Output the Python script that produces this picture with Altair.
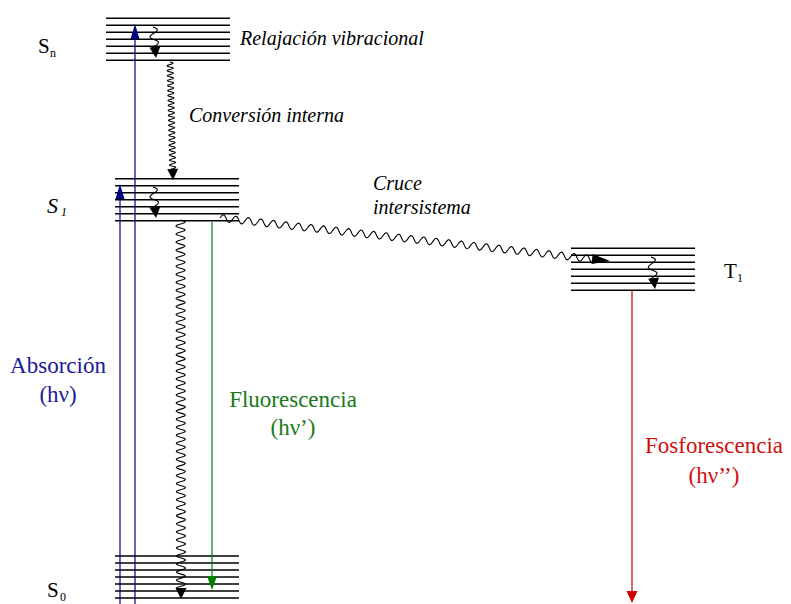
import math
import altair as alt
import numpy as np
import pandas as pd

# ---------------- data (x across, e = energy upward) ----------------
level_names = ["Sn", "S1", "T1", "S0"]
level_top = [585.7, 425.3, 355.7, 48.0]
level_left = [106, 115, 571, 115]
level_right = [230, 239, 695, 239]
n_sublevels = 7
sublevel_gap = 7.0

rad_names = ["Absorción 1", "Absorción 2", "Fluorescencia", "Fosforescencia"]
rad_x = [120, 135, 212, 632]
rad_start = [0, 0, 382, 313]
rad_tip = [420, 580, 14, 1]

nr_names = ["Relajación Sn", "Conversión interna", "Relajación S1",
            "S1 a S0", "Cruce intersistema", "Relajación T1"]
nr_x_start = [153, 170, 153, 180.5, 220, 651]
nr_e_start = [577, 542, 417, 384, 386, 347]
nr_x_tip = [156, 173, 156, 181, 610, 655]
nr_e_tip = [546, 424, 386, 5, 343, 315]
nr_waves = [1.75, 22, 1.75, 46, 30, 1.75]

label_text = ["S", "n", "S", "0", "T", "1",
              "Absorción", "(hν)", "Fluorescencia", "(hν’)", "Fosforescencia", "(hν’’)",
              "S", "1", "Relajación vibracional", "Conversión interna", "Cruce", "intersistema"]
label_x = [38, 50, 47, 60, 724, 737,
           58, 58, 293, 293, 714, 714,
           47, 61, 240, 189, 373, 373]
label_e = [551, 547, 7, 3, 326, 322,
           231, 202, 197, 169, 151, 121,
           391, 388, 559, 482, 414, 390]

# ---------------- styles ----------------
RAD_COLORS = ["#000080", "#000080", "#008000", "#cc0000"]
RAD_HEAD = [(15, 9), (15, 9), (14, 10), (12, 11)]  # length, width
NR_AMP = [4, 3, 4, 4.5, 3.5, 4]
NR_HEAD = [(11, 11), (11, 11), (11, 11), (11, 11), (18, 10), (11, 11)]
LABEL_SIZE = [21, 12, 21, 12, 21, 12,
              23, 23, 23, 23, 23, 23,
              22, 12, 20, 20, 20, 20]
LABEL_COLOR = ["black"] * 6 + ["#1a1a99"] * 2 + ["#1a7a1a"] * 2 + ["#d01010"] * 2 + ["black"] * 6
LABEL_KIND = ["left"] * 6 + ["center"] * 6 + ["italic"] * 6
FONT = "Liberation Serif, Times New Roman, Times, serif"

# ---------------- tables ----------------
lev_rows = []
for name, top, x0, x1 in zip(level_names, level_top, level_left, level_right):
    for k in range(n_sublevels):
        lev_rows.append({"name": name, "x": x0, "x2": x1, "e": top - k * sublevel_gap})
levels = pd.DataFrame(lev_rows)


def head_row(x0, e0, xt, et, length, width, color):
    dx, de = xt - x0, et - e0
    d = math.hypot(dx, de)
    ux, ue = dx / d, de / d
    cx, ce = xt - ux * length / 2, et - ue * length / 2
    w = (width / 2) / (length / 2)
    sx, sy = ux, -ue
    ang = math.degrees(math.atan2(-sx, sy)) % 360
    return {"x": cx, "e": ce, "shape": f"M0,1L{-w:.3f},-1L{w:.3f},-1Z",
            "size": length ** 2, "angle": ang, "color": color}


rad_rows, head_rows = [], []
for name, x, e0, et, col, (L, W) in zip(rad_names, rad_x, rad_start, rad_tip, RAD_COLORS, RAD_HEAD):
    h = head_row(x, e0, x, et, L, W, col)
    rad_rows.append({"name": name, "x": x, "e": e0, "e2": h["e"], "color": col})
    head_rows.append(h)
rad = pd.DataFrame(rad_rows)

wave_rows = []
for name, x0, e0, xt, et, nw, amp, (L, W) in zip(nr_names, nr_x_start, nr_e_start, nr_x_tip,
                                                  nr_e_tip, nr_waves, NR_AMP, NR_HEAD):
    dx, de = xt - x0, et - e0
    d = math.hypot(dx, de)
    ux, ue = dx / d, de / d
    nx, ne = -ue, ux
    xe, ee = xt - ux * L * 0.8, et - ue * L * 0.8
    n_pts = int(nw * 16) + 2
    for i, t in enumerate(np.linspace(0, 1, n_pts)):
        off = amp * math.sin(2 * math.pi * nw * t)
        wave_rows.append({"id": name, "i": i,
                          "x": x0 + t * (xe - x0) + nx * off,
                          "e": e0 + t * (ee - e0) + ne * off})
    head_rows.append(head_row(x0, e0, xt, et, L, W, "black"))
waves = pd.DataFrame(wave_rows)
heads = pd.DataFrame(head_rows)

labels = pd.DataFrame({"text": label_text, "x": label_x, "e": label_e,
                       "size": LABEL_SIZE, "color": LABEL_COLOR, "kind": LABEL_KIND})

# ---------------- chart ----------------
X = alt.X("x:Q", scale=alt.Scale(domain=[8, 783], nice=False, zero=False), axis=None)
Y = alt.Y("e:Q", scale=alt.Scale(domain=[0, 596], nice=False, zero=False), axis=None)

level_layer = alt.Chart(levels).mark_rule(color="black", strokeWidth=1.6).encode(
    x=X, x2="x2:Q", y=Y)

rad_layer = alt.Chart(rad).mark_rule(strokeWidth=1.2).encode(
    x=X, y=Y, y2="e2:Q", color=alt.Color("color:N", scale=None))

wave_layer = alt.Chart(waves).mark_line(color="black", strokeWidth=1.1).encode(
    x=X, y=Y, detail="id:N", order="i:Q")

head_layer = alt.Chart(heads).mark_point(filled=True, opacity=1, strokeWidth=0).encode(
    x=X, y=Y,
    shape=alt.Shape("shape:N", scale=None),
    size=alt.Size("size:Q", scale=None),
    angle=alt.Angle("angle:Q", scale=None),
    color=alt.Color("color:N", scale=None))


def text_layer(kind, align, style):
    return alt.Chart(labels).transform_filter(alt.datum.kind == kind).mark_text(
        font=FONT, fontStyle=style, align=align, baseline="alphabetic").encode(
        x=X, y=Y, text="text:N",
        size=alt.Size("size:Q", scale=None),
        color=alt.Color("color:N", scale=None))


chart = alt.layer(
    level_layer, rad_layer, wave_layer, head_layer,
    text_layer("left", "left", "normal"),
    text_layer("center", "center", "normal"),
    text_layer("italic", "left", "italic"),
).properties(
    width=775, height=596, padding=0,
    autosize=alt.AutoSizeParams(type="none"),
    background="white",
).configure_view(stroke=None)

chart.save("out.html", embed_options={"renderer": "svg", "actions": False})
